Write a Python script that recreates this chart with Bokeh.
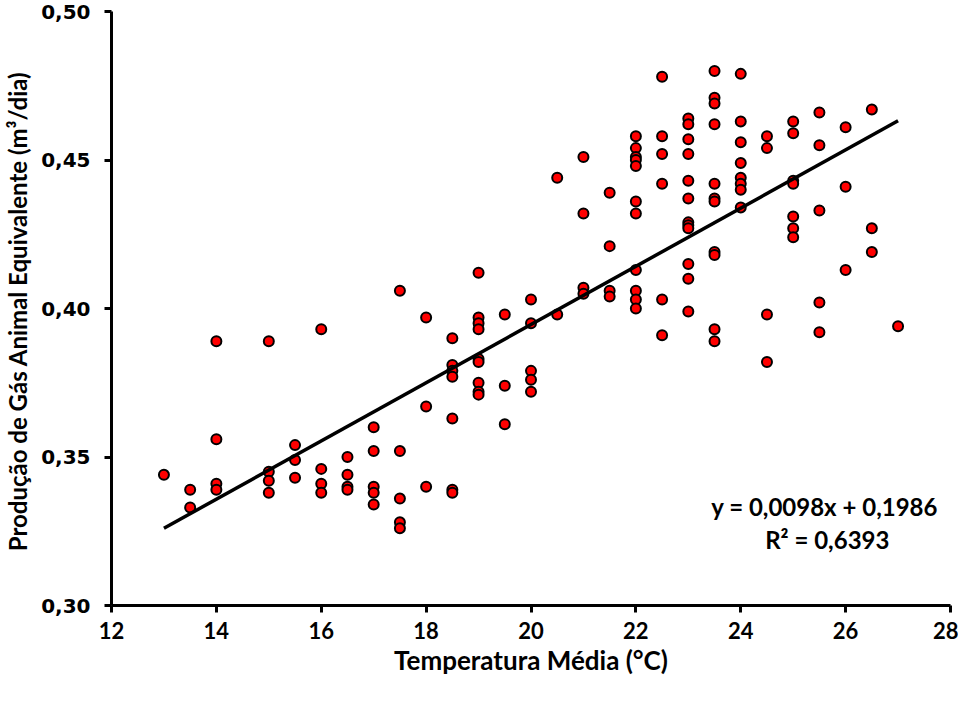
from bokeh.plotting import figure
from bokeh.models import FixedTicker, CustomJSTickFormatter, Range1d, Label
from bokeh.embed import file_html
from bokeh.resources import INLINE

# Temperature (°C) and daily gas production per equivalent animal (m³/dia)
temp = (
    [13.0]
    + [13.5] * 2
    + [14.0] * 4
    + [15.0] * 4
    + [15.5] * 3
    + [16.0] * 4
    + [16.5] * 4
    + [17.0] * 5
    + [17.5] * 5
    + [18.0] * 3
    + [18.5] * 7
    + [19.0] * 9
    + [19.5] * 3
    + [20.0] * 5
    + [20.5] * 2
    + [21.0] * 4
    + [21.5] * 4
    + [22.0] * 11
    + [22.5] * 6
    + [23.0] * 12
    + [23.5] * 11
    + [24.0] * 8
    + [24.5] * 4
    + [25.0] * 7
    + [25.5] * 5
    + [26.0] * 3
    + [26.5] * 3
    + [27.0]
)
gas = [
    0.344,
    0.339, 0.333,
    0.389, 0.356, 0.341, 0.339,
    0.389, 0.345, 0.342, 0.338,
    0.354, 0.349, 0.343,
    0.393, 0.346, 0.341, 0.338,
    0.350, 0.344, 0.340, 0.339,
    0.360, 0.352, 0.340, 0.338, 0.334,
    0.406, 0.352, 0.336, 0.328, 0.326,
    0.397, 0.367, 0.340,
    0.390, 0.381, 0.379, 0.377, 0.363, 0.339, 0.338,
    0.412, 0.397, 0.395, 0.393, 0.383, 0.382, 0.375, 0.372, 0.371,
    0.398, 0.374, 0.361,
    0.403, 0.395, 0.379, 0.376, 0.372,
    0.444, 0.398,
    0.451, 0.432, 0.407, 0.405,
    0.439, 0.421, 0.406, 0.404,
    0.458, 0.454, 0.451, 0.450, 0.448, 0.436, 0.432, 0.413, 0.406, 0.403, 0.400,
    0.478, 0.458, 0.452, 0.442, 0.403, 0.391,
    0.464, 0.462, 0.457, 0.452, 0.443, 0.437, 0.429, 0.428, 0.427, 0.415, 0.410, 0.399,
    0.480, 0.471, 0.469, 0.462, 0.442, 0.437, 0.436, 0.419, 0.418, 0.393, 0.389,
    0.479, 0.463, 0.456, 0.449, 0.444, 0.442, 0.440, 0.434,
    0.458, 0.454, 0.398, 0.382,
    0.463, 0.459, 0.443, 0.442, 0.431, 0.427, 0.424,
    0.466, 0.455, 0.433, 0.402, 0.392,
    0.461, 0.441, 0.413,
    0.467, 0.427, 0.419,
    0.394,
]

# Linear trend reported on the chart
slope = 0.0098
intercept = 0.1986
r2_text = "R² = 0,6393"
eq_text = "y = 0,0098x + 0,1986"

x_ticks = [12, 14, 16, 18, 20, 22, 24, 26, 28]
y_ticks = [0.30, 0.35, 0.40, 0.45, 0.50]

p = figure(
    width=958, height=686,
    output_backend="svg", toolbar_location=None,
    x_range=Range1d(12, 28), y_range=Range1d(0.30, 0.50),
    min_border_left=110, min_border_right=8,
    min_border_top=11, min_border_bottom=81,
)
p.outline_line_color = None
p.xgrid.grid_line_color = None
p.ygrid.grid_line_color = None
p.background_fill_color = "white"
p.border_fill_color = "white"

for ax in (p.xaxis[0], p.yaxis[0]):
    ax.axis_line_width = 3
    ax.axis_line_color = "black"
    ax.major_tick_line_width = 3
    ax.major_tick_line_color = "black"
    ax.major_tick_out = 7
    ax.major_tick_in = 0
    ax.minor_tick_line_color = None
    ax.major_label_text_color = "black"
    ax.axis_label_text_color = "black"
    ax.axis_label_text_font = "Lato"
    ax.axis_label_text_font_style = "bold"

p.xaxis.ticker = FixedTicker(ticks=x_ticks)
p.yaxis.ticker = FixedTicker(ticks=y_ticks)
p.xaxis.major_label_text_font = "Lato"
p.xaxis.major_label_text_font_style = "bold"
p.xaxis.major_label_text_font_size = "22px"
p.xaxis.major_label_standoff = 9
p.yaxis.major_label_text_font = "DejaVu Sans"
p.yaxis.major_label_text_font_style = "bold"
p.yaxis.major_label_text_font_size = "20px"
p.yaxis.major_label_standoff = 14
p.yaxis.formatter = CustomJSTickFormatter(code="return tick.toFixed(2).replace('.', ',');")

p.xaxis.axis_label = "Temperatura Média (°C)"
p.yaxis.axis_label = "Produção de Gás Animal Equivalente  (m³/dia)"
p.xaxis.axis_label_text_font_size = "26px"
p.yaxis.axis_label_text_font_size = "24px"
p.xaxis.axis_label_standoff = 2
p.yaxis.axis_label_standoff = 6

p.scatter(temp, gas, size=10, fill_color="#FF0000", line_color="black", line_width=2)

x0, x1 = min(temp), max(temp)
p.line([x0, x1], [slope * x0 + intercept, slope * x1 + intercept], line_color="black", line_width=3.5)

p.add_layout(Label(x=25.6, y=0.3335, text=eq_text, text_align="center", text_baseline="middle",
                   text_font="Lato", text_font_style="bold", text_font_size="24px", text_color="black"))
p.add_layout(Label(x=25.65, y=0.3222, text=r2_text, text_align="center", text_baseline="middle",
                   text_font="Lato", text_font_style="bold", text_font_size="24px", text_color="black"))

open("out.html", "w").write(file_html(p, INLINE))
